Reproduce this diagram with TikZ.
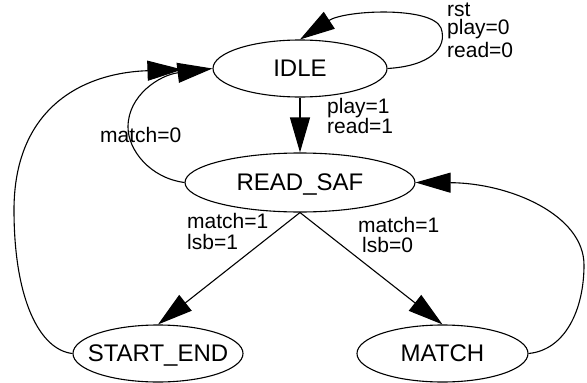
\documentclass[tikz,border=0pt]{standalone}
\usepackage{fontspec}
\setmainfont{Liberation Sans}
\usetikzlibrary{shapes.geometric,arrows.meta}
% state name: zero width so the ellipse size is set only by its minimum size
\newcommand\statename[1]{\makebox[0pt]{\vphantom{D}\smash{#1}}}
% stacked transition conditions, baseline on the first line
\newcommand\condlines[1]{\begin{tabular}[t]{@{}l@{}}#1\end{tabular}}
\begin{document}
\begin{tikzpicture}[x=1pt,y=-1pt,
  fsmstate/.style={ellipse, draw, line width=1.1pt, inner sep=0pt,
    font=\fontsize{24}{24}\selectfont},
  trans/.style={line width=1.1pt, -{Triangle[length=35pt,width=20pt]}},
  cond/.style={anchor=base west, inner sep=0pt,
    font=\fontsize{21}{21}\selectfont}]
\useasboundingbox (0,0) rectangle (587,383);

% states
\node[fsmstate, minimum width=174pt, minimum height=57pt] (idle) at (300,68.5) {\statename{IDLE}};
\node[fsmstate, minimum width=230pt, minimum height=59pt] (read) at (300,182.5) {\statename{READ\_SAF}};
\node[fsmstate, minimum width=170pt, minimum height=57pt] (startend) at (158,353.5) {\statename{START\_END}};
\node[fsmstate, minimum width=171pt, minimum height=57pt] (match) at (442.5,353.5) {\statename{MATCH}};

% transitions
\draw[trans] (idle.south) -- (read.north);
\draw[trans] (read.south) -- (startend.north);
\draw[trans] (read.south) -- (match.north);
\draw[trans] (idle.east) .. controls (430,66) and (448,48) .. (441,28)
  .. controls (432,6) and (345,10) .. (idle.north);
\draw[trans] (read.west) .. controls (150,178) and (128,150) .. (128,127)
  .. controls (128,95) and (160,75) .. (idle.west);
\draw[trans, shorten >=30pt] (startend.west) .. controls (40,350) and (14,300) .. (14,210)
  .. controls (14,110) and (80,73) .. (idle.west);
\draw[trans] (match.east) .. controls (565,350) and (584,310) .. (584,265)
  .. controls (584,215) and (510,183) .. (read.east);

% conditions
\node[cond] (lblloop) at (447,16) {\condlines{rst\\[-3pt]play=0\\[1pt]read=0}};
\node[cond] (lblgo) at (327,113) {\condlines{play=1\\[-1pt]read=1}};
\node[cond] (lblback) at (100,142) {match=0};
\node[cond] (lblend) at (187,228) {\condlines{match=1\\lsb=1}};
\node[cond] (lblmatch) at (358,232) {\condlines{match=1\\[-1pt]\hspace{4pt}lsb=0}};
\end{tikzpicture}
\end{document}
